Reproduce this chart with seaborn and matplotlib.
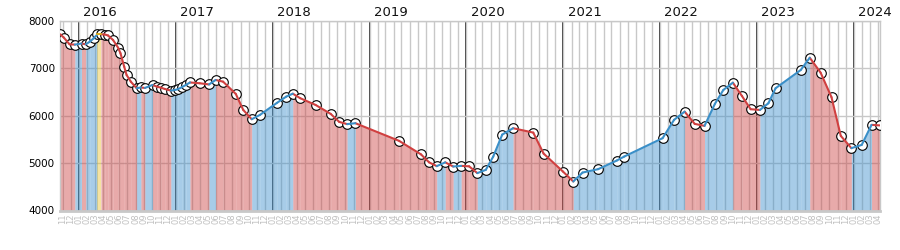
import numpy as np
import pandas as pd
import matplotlib
matplotlib.use("Agg")
import matplotlib.pyplot as plt
import matplotlib.dates as mdates
import matplotlib.transforms as mtransforms
import seaborn as sns

dates = [
    "2015-10-22", "2015-11-04", "2015-11-26", "2015-12-16", "2016-01-10", "2016-01-26",
    "2016-02-10", "2016-02-25", "2016-03-10", "2016-03-23", "2016-04-07", "2016-04-19",
    "2016-05-08", "2016-05-27", "2016-06-05", "2016-06-19", "2016-06-28", "2016-07-14",
    "2016-08-05", "2016-08-21", "2016-09-05", "2016-10-04", "2016-10-20", "2016-11-04",
    "2016-11-19", "2016-12-12", "2016-12-27", "2017-01-07", "2017-01-22", "2017-02-07",
    "2017-02-22", "2017-03-31", "2017-05-05", "2017-05-30", "2017-06-27", "2017-08-14",
    "2017-09-11", "2017-10-13", "2017-11-13", "2018-01-16", "2018-02-20", "2018-03-17",
    "2018-04-14", "2018-06-11", "2018-08-07", "2018-09-08", "2018-10-08", "2018-11-08",
    "2019-04-22", "2019-07-14", "2019-08-13", "2019-09-11", "2019-10-13", "2019-11-12",
    "2019-12-12", "2020-01-11", "2020-02-11", "2020-03-14", "2020-04-11", "2020-05-15",
    "2020-06-25", "2020-09-09", "2020-10-18", "2020-12-30", "2021-02-07", "2021-03-14",
    "2021-05-12", "2021-07-21", "2021-08-18", "2022-01-10", "2022-02-22", "2022-04-03",
    "2022-05-11", "2022-06-17", "2022-07-26", "2022-08-27", "2022-10-02", "2022-11-05",
    "2022-12-08", "2023-01-12", "2023-02-13", "2023-03-12", "2023-06-15", "2023-07-19",
    "2023-08-29", "2023-10-09", "2023-11-13", "2023-12-23", "2024-01-31", "2024-03-08",
    "2024-04-09",
]
values = [
    7714, 7646, 7503, 7497, 7520, 7503,
    7558, 7630, 7714, 7714, 7710, 7690,
    7594, 7432, 7314, 7032, 6857, 6716,
    6577, 6594, 6583, 6647, 6611, 6590,
    6562, 6527, 6541, 6556, 6598, 6647,
    6699, 6682, 6657, 6752, 6716, 6457,
    6120, 5924, 6015, 6268, 6400, 6463,
    6367, 6225, 6036, 5868, 5821, 5840,
    5468, 5181, 5015, 4935, 5015, 4927,
    4941, 4931, 4788, 4857, 5137, 5600,
    5735, 5642, 5200, 4821, 4611, 4800,
    4872, 5053, 5137, 5525, 5910, 6084,
    5826, 5784, 6247, 6541, 6695, 6415,
    6135, 6120, 6261, 6577, 6962, 7221,
    6905, 6388, 5573, 5314, 5383, 5805,
    5794,
]
years = [2016, 2017, 2018, 2019, 2020, 2021, 2022, 2023, 2024]
y_ticks = [4000, 5000, 6000, 7000, 8000]

UP_LINE, UP_FILL = "#3a8fc8", "#3d8fcc"
DOWN_LINE, DOWN_FILL = "#d04040", "#cc4444"
FLAT_FILL = "#e8c030"

sns.set_style("white")
plt.rcParams["font.family"] = ["DejaVu Sans"]

df = pd.DataFrame({"date": pd.to_datetime(dates), "value": values})

rows = []
for i in range(len(df) - 1):
    d0, d1 = df.date[i], df.date[i + 1]
    v0, v1 = df.value[i], df.value[i + 1]
    direction = "up" if v1 > v0 else ("down" if v1 < v0 else "flat")
    rows.append({"seg": i, "date": d0, "value": v0, "dir": direction})
    rows.append({"seg": i, "date": d1, "value": v1, "dir": direction})
seg = pd.DataFrame(rows)

fig = plt.figure(figsize=(9, 2.5), dpi=100)
ax = fig.add_axes([0.067, 0.158, 0.9108, 0.759])

month_starts = pd.date_range("2015-11-01", "2024-04-01", freq="MS")
ax.set_xticks(month_starts)
ax.set_xticklabels([d.strftime("%m") for d in month_starts], rotation=90,
                   fontsize=6, color="#c0c0c0")
ax.tick_params(axis="x", length=0, pad=2)
ax.tick_params(axis="y", length=0, pad=4, labelsize=7.5, labelcolor="black")
ax.set_yticks(y_ticks)
ax.grid(True, color="#c8c8c8", linewidth=1.0, zorder=0)
ax.set_axisbelow(True)

for y in years:
    ax.axvline(pd.Timestamp(f"{y}-01-01"), color="black", linewidth=1.1, zorder=0.5)

fills = {"up": UP_FILL, "down": DOWN_FILL, "flat": FLAT_FILL}
for i in range(len(df) - 1):
    d = seg[seg.seg == i]
    direction = d["dir"].iloc[0]
    ax.fill_between(d["date"].values, d["value"].values, 4000,
                    color=fills[direction], alpha=0.45, linewidth=0, zorder=1)

sns.scatterplot(data=df, x="date", y="value", ax=ax, s=48, marker="o",
                facecolor="white", edgecolor="black", linewidth=0.8, zorder=3,
                legend=False)

sns.lineplot(data=seg, x="date", y="value", hue="dir", units="seg", estimator=None,
             palette={"up": UP_LINE, "down": DOWN_LINE, "flat": "#e0b020"},
             linewidth=1.5, ax=ax, legend=False, zorder=4, sort=False)

ax.set_xlim(df.date.iloc[0], df.date.iloc[-1])
ax.set_ylim(4000, 8000)
ax.set_xlabel("")
ax.set_ylabel("")
for s in ax.spines.values():
    s.set_color("#c8c8c8")
    s.set_linewidth(1.0)
ax.spines["bottom"].set_linewidth(2.0)

trans = mtransforms.blended_transform_factory(ax.transData, ax.transAxes)
for y in years:
    ax.annotate(str(y), xy=(mdates.date2num(pd.Timestamp(f"{y}-01-01")), 1.0),
                xycoords=trans, xytext=(3, 3.5), textcoords="offset points",
                ha="left", va="baseline", fontsize=9.5, color="#111111")

fig.savefig("out.png", dpi=100)
